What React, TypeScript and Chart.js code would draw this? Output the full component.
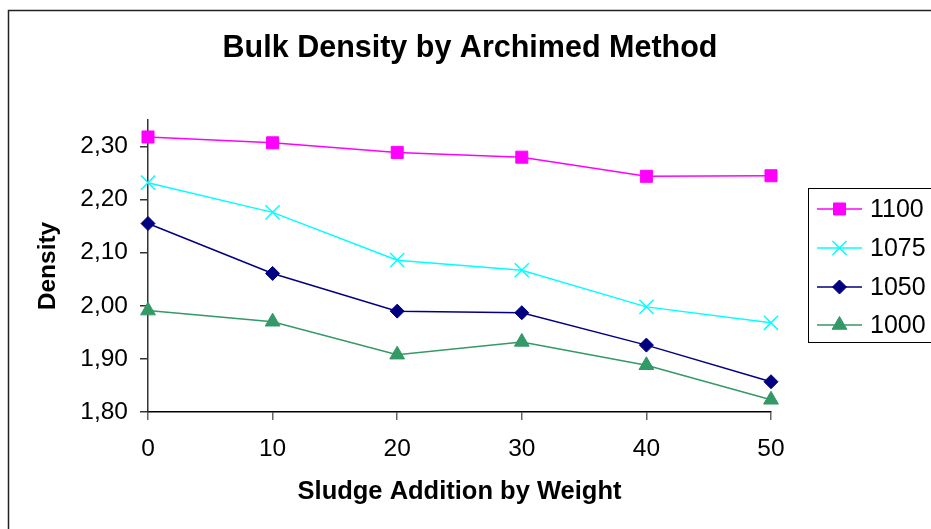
import React, { useEffect, useRef } from "react";
import { Chart, registerables } from "chart.js";
import { drawPoint } from "chart.js/helpers";

Chart.register(...registerables);

const categories = ["0", "10", "20", "30", "40", "50"];
const seriesNames = ["1100", "1075", "1050", "1000"];
const s1100 = [2.318, 2.307, 2.289, 2.28, 2.244, 2.245];
const s1075 = [2.232, 2.176, 2.086, 2.067, 1.998, 1.968];
const s1050 = [2.155, 2.061, 1.99, 1.987, 1.926, 1.857];
const s1000 = [1.991, 1.97, 1.908, 1.932, 1.888, 1.823];
const yTickValues = [1.8, 1.9, 2.0, 2.1, 2.2, 2.3];
const seriesColors = ["#FF00FF", "#00FFFF", "#000080", "#339966"];
const seriesMarkers = ["rect", "crossRot", "rectRot", "triangle"];
const markerRadius = [8.5, 10, 7, 8.5];

const chartTitle = "Bulk Density by Archimed Method";
const xTitle = "Sludge Addition by Weight";
const yTitle = "Density";

const FONT = "'Liberation Sans', Arial, Helvetica, sans-serif";

const decorPlugin = {
  id: "decor",
  beforeDraw(chart: any) {
    const ctx = chart.ctx;
    ctx.save();
    ctx.fillStyle = "#ffffff";
    ctx.fillRect(0, 0, chart.width, chart.height);
    ctx.strokeStyle = "#222";
    ctx.lineWidth = 1.5;
    ctx.beginPath();
    ctx.moveTo(8.5, chart.height + 5);
    ctx.lineTo(8.5, 10.5);
    ctx.lineTo(chart.width + 5, 10.5);
    ctx.stroke();
    ctx.restore();
  },
  afterDraw(chart: any) {
    const ctx = chart.ctx;
    ctx.save();
    // title
    ctx.fillStyle = "#000";
    ctx.font = `bold 30.5px ${FONT}`;
    ctx.textAlign = "center";
    ctx.textBaseline = "middle";
    ctx.fillText(chartTitle, 470, 49);
    // legend box
    ctx.strokeStyle = "#000";
    ctx.lineWidth = 1;
    ctx.strokeRect(808.5, 188.5, 200, 154);
    const rowY = [209, 248, 287, 325];
    chart.data.datasets.forEach((ds: any, i: number) => {
      const y = rowY[i];
      ctx.strokeStyle = ds.borderColor;
      ctx.lineWidth = ds.borderWidth;
      ctx.beginPath();
      ctx.moveTo(817, y);
      ctx.lineTo(862, y);
      ctx.stroke();
      ctx.fillStyle = ds.pointBackgroundColor;
      ctx.strokeStyle = ds.pointBorderColor;
      ctx.lineWidth = ds.pointBorderWidth;
      drawPoint(ctx, { pointStyle: ds.pointStyle, rotation: 0, radius: ds.pointRadius, borderWidth: ds.pointBorderWidth }, 839.5, y);
      ctx.fillStyle = "#000";
      ctx.font = `25px ${FONT}`;
      ctx.textAlign = "left";
      ctx.textBaseline = "middle";
      ctx.fillText(ds.label, 870, y + 1);
    });
    ctx.restore();
  },
};

export default function App() {
  const ref = useRef<HTMLCanvasElement>(null);
  useEffect(() => {
    if (!ref.current) return;
    const allSeries = [s1100, s1075, s1050, s1000];
    const chart = new Chart(ref.current, {
      type: "line",
      data: {
        labels: categories,
        datasets: allSeries.map((data, i) => ({
          label: seriesNames[i],
          data,
          borderColor: seriesColors[i],
          backgroundColor: seriesColors[i],
          pointBackgroundColor: seriesColors[i],
          pointBorderColor: seriesColors[i],
          pointBorderWidth: seriesMarkers[i] === "crossRot" ? 1.5 : 1,
          pointStyle: seriesMarkers[i],
          pointRadius: markerRadius[i],
          borderWidth: 1.5,
          tension: 0,
          fill: false,
        })),
      },
      options: {
        animation: false,
        responsive: false,
        maintainAspectRatio: false,
        layout: { padding: { top: 120, right: 160, bottom: 0, left: 0 } },
        plugins: {
          legend: { display: false },
          title: { display: false },
          tooltip: { enabled: false },
        },
        scales: {
          x: {
            type: "category",
            offset: false,
            afterFit: (s: any) => {
              s.height = 117;
            },
            grid: {
              display: true,
              drawOnChartArea: false,
              drawTicks: true,
              tickLength: 8,
              color: "#666",
              lineWidth: 1.5,
            },
            border: { display: true, color: "#000", width: 1.5 },
            ticks: {
              color: "#000",
              font: { family: FONT, size: 24.5 },
              padding: 15,
              maxRotation: 0,
              autoSkip: false,
            },
            title: {
              display: true,
              text: xTitle,
              color: "#000",
              font: { family: FONT, size: 25.5, weight: "bold" },
              padding: { top: 0, bottom: 22 },
            },
          },
          y: {
            type: "linear",
            min: 1.8,
            max: 2.35,
            afterFit: (s: any) => {
              s.width = 148;
            },
            afterBuildTicks: (s: any) => {
              s.ticks = yTickValues.map((v) => ({ value: v }));
            },
            grid: {
              display: true,
              drawOnChartArea: false,
              drawTicks: true,
              tickLength: 8,
              color: "#333",
              lineWidth: 1.5,
            },
            border: { display: true, color: "#333", width: 1.5 },
            ticks: {
              autoSkip: false,
              color: "#000",
              font: { family: FONT, size: 24.5 },
              padding: 12,
              callback: (v: any) => Number(v).toFixed(2).replace(".", ","),
            },
            title: {
              display: true,
              text: yTitle,
              color: "#000",
              font: { family: FONT, size: 24.5, weight: "bold" },
              padding: { top: 34, bottom: 0 },
            },
          },
        },
      },
      plugins: [decorPlugin],
    });
    return () => chart.destroy();
  }, []);
  return (
    <div style={{ position: "absolute", left: 0, top: 0, width: 931, height: 529, overflow: "hidden" }}>
      <canvas ref={ref} width={931} height={529} style={{ display: "block", width: 931, height: 529 }} />
    </div>
  );
}
